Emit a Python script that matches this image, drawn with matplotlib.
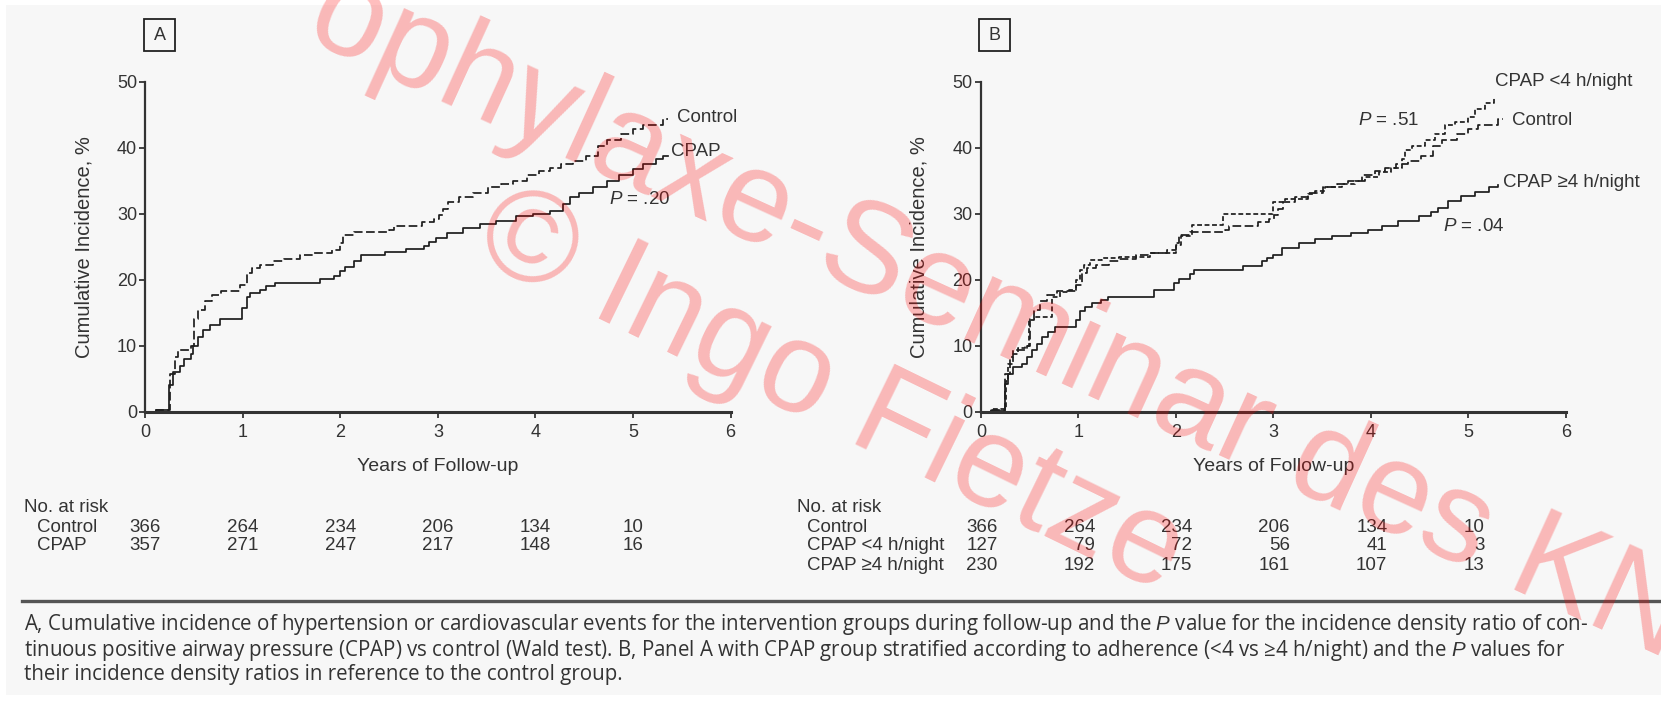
import matplotlib
matplotlib.use("Agg")
import matplotlib.pyplot as plt
from matplotlib.patches import Rectangle
from matplotlib.lines import Line2D
from matplotlib import transforms

plt.rcParams["font.family"] = ["Liberation Sans", "DejaVu Sans"]
plt.rcParams["mathtext.fontset"] = "custom"
plt.rcParams["mathtext.rm"] = "Liberation Sans"
plt.rcParams["mathtext.it"] = "Liberation Sans:italic"

# ---- data (years, cumulative incidence %) ----
control_years = [0, 0.11, 0.23, 0.25, 0.30, 0.33, 0.47, 0.50, 0.54, 0.61, 0.68, 0.78, 0.97,
                 1.04, 1.09, 1.18, 1.31, 1.42, 1.59, 1.72, 1.91, 2.00, 2.03, 2.14, 2.50,
                 2.55, 2.84, 2.96, 3.01, 3.05, 3.10, 3.22, 3.36, 3.51, 3.65, 3.77, 3.91,
                 4.04, 4.15, 4.26, 4.38, 4.52, 4.64, 4.73, 4.88, 5.00, 5.10, 5.31, 5.36]
control_pct = [0, 0.3, 0.3, 5.7, 8.3, 9.3, 10.0, 14.1, 15.4, 16.7, 17.7, 18.3, 19.2,
               21.0, 21.8, 22.3, 22.8, 23.1, 23.7, 24.1, 24.5, 25.6, 26.7, 27.2, 27.6,
               28.2, 28.7, 29.2, 29.8, 30.7, 31.7, 32.5, 33.2, 34.0, 34.5, 35.0, 35.8,
               36.4, 36.9, 37.5, 38.0, 38.8, 40.3, 41.1, 42.1, 42.9, 43.4, 44.4, 44.4]

cpap_years = [0, 0.11, 0.24, 0.28, 0.35, 0.40, 0.47, 0.49, 0.54, 0.59, 0.66, 0.76, 0.99,
              1.04, 1.07, 1.18, 1.24, 1.33, 1.79, 1.93, 2.00, 2.05, 2.14, 2.21, 2.46,
              2.67, 2.86, 2.91, 2.98, 3.09, 3.26, 3.43, 3.60, 3.80, 3.97, 4.15, 4.28,
              4.35, 4.45, 4.59, 4.73, 4.86, 5.00, 5.10, 5.24, 5.31, 5.36]
cpap_pct = [0, 0.2, 4.0, 6.0, 7.0, 8.0, 8.8, 10.0, 11.3, 12.4, 13.1, 14.1, 15.7,
            17.4, 18.0, 18.5, 19.0, 19.5, 20.1, 20.5, 21.3, 22.0, 22.8, 23.7, 24.2,
            24.6, 25.1, 25.7, 26.3, 27.1, 27.9, 28.4, 28.9, 29.6, 29.9, 30.4, 31.4,
            32.5, 33.2, 34.0, 35.0, 35.8, 36.8, 37.5, 38.3, 38.8, 38.8]

low_years = [0, 0.10, 0.26, 0.28, 0.33, 0.38, 0.45, 0.49, 0.54, 0.73, 0.81, 0.90, 0.97,
             1.02, 1.06, 1.12, 1.24, 1.42, 1.73, 2.00, 2.05, 2.17, 2.48, 3.00, 3.12,
             3.36, 3.43, 3.53, 3.70, 3.84, 3.94, 4.08, 4.21, 4.32, 4.35, 4.42, 4.56,
             4.66, 4.76, 4.86, 5.00, 5.07, 5.17, 5.26]
low_pct = [0, 0.4, 4.7, 7.3, 8.8, 9.6, 10.0, 13.9, 14.4, 17.4, 18.2, 18.5, 20.0,
           21.5, 22.3, 23.0, 23.3, 23.5, 24.0, 25.3, 26.6, 28.3, 29.9, 31.7, 32.2,
           33.0, 33.5, 34.0, 34.5, 35.0, 35.5, 36.3, 36.9, 38.3, 39.6, 40.3, 41.1,
           42.1, 43.4, 43.9, 44.7, 45.9, 46.7, 47.7]

high_years = [0, 0.10, 0.25, 0.28, 0.33, 0.42, 0.47, 0.52, 0.57, 0.63, 0.69, 0.76, 0.97,
              1.02, 1.07, 1.14, 1.23, 1.30, 1.78, 1.98, 2.03, 2.14, 2.19, 2.69, 2.88,
              2.93, 3.00, 3.09, 3.26, 3.43, 3.60, 3.80, 3.97, 4.11, 4.28, 4.49, 4.62,
              4.69, 4.79, 4.93, 5.07, 5.21, 5.31]
high_pct = [0, 0.15, 4.2, 5.7, 6.8, 7.3, 8.3, 9.3, 10.3, 11.3, 12.1, 12.9, 13.9,
            15.2, 15.9, 16.5, 17.0, 17.4, 18.4, 19.5, 20.1, 20.8, 21.5, 22.1, 22.8,
            23.3, 23.8, 24.8, 25.6, 26.2, 26.6, 27.1, 27.6, 28.2, 28.9, 29.7, 30.2,
            30.9, 31.9, 32.7, 33.3, 34.0, 34.3]

risk_years = [0, 1, 2, 3, 4, 5]
risk_a_labels = ["Control", "CPAP"]
risk_a = [[366, 264, 234, 206, 134, 10],
          [357, 271, 247, 217, 148, 16]]
risk_b_labels = ["Control", "CPAP <4 h/night", "CPAP \u22654 h/night"]
risk_b = [[366, 264, 234, 206, 134, 10],
          [127, 79, 72, 56, 41, 3],
          [230, 192, 175, 161, 107, 13]]

caption = [
    "A, Cumulative incidence of hypertension or cardiovascular events for the intervention groups during "
    "follow-up and the $P$ value for the incidence density ratio of con-",
    "tinuous positive airway pressure (CPAP) vs control (Wald test). B, Panel A with CPAP group stratified "
    "according to adherence (<4 vs \u22654 h/night) and the $P$ values for",
    "their incidence density ratios in reference to the control group.",
]

W, H = 1661, 704
INK = "#1e1e1e"
TXT = "#333333"
fig = plt.figure(figsize=(W / 100, H / 100), dpi=100, facecolor="white")


def fx(px):
    return px / W


def fy(py):
    return 1 - py / H


# light grey page background, kept behind the axes
fig.patches.append(Rectangle((fx(6), fy(695)), fx(W - 6), (695 - 5) / H,
                             transform=fig.transFigure, facecolor="#f7f7f7",
                             edgecolor="none", zorder=-5))


def make_axes(left_px, right_px):
    ax = fig.add_axes([fx(left_px), fy(411.7), fx(right_px - left_px), (411.7 - 81.7) / H])
    ax.set_facecolor("none")
    ax.set_xlim(0, 6)
    ax.set_ylim(0, 50)
    ax.set_xticks(range(7))
    ax.set_yticks(range(0, 51, 10))
    for side in ("top", "right"):
        ax.spines[side].set_visible(False)
    ax.spines["left"].set_linewidth(1.6)
    ax.spines["bottom"].set_linewidth(2.2)
    for side in ("left", "bottom"):
        ax.spines[side].set_color("#333333")
    ax.tick_params(axis="x", length=4, width=1.3, pad=5, labelsize=13, colors=TXT)
    ax.tick_params(axis="y", length=4, width=1.3, pad=2, labelsize=13, colors=TXT)
    ax.set_xlabel("Years of Follow-up", fontsize=14, color=TXT, labelpad=12)
    ax.set_ylabel("Cumulative Incidence, %", fontsize=14.5, color=TXT, labelpad=17)
    return ax


def step(ax, xs, ys, dashes=None):
    line, = ax.step(xs, ys, where="post", color=INK, lw=1.25, clip_on=False)
    if dashes:
        line.set_dashes(dashes)
    return line


def panel_box(x0, letter):
    fig.patches.append(Rectangle((fx(x0), fy(51)), fx(31), 32 / H, transform=fig.transFigure,
                                 facecolor="none", edgecolor="#222222", lw=1.3))
    fig.text(fx(x0 + 15.5), fy(35), letter, ha="center", va="center", fontsize=13, color=TXT)


# ---- panel A ----
ax_a = make_axes(145.4, 730.5)
step(ax_a, control_years, control_pct, dashes=(5, 2))
step(ax_a, cpap_years, cpap_pct)
ax_a.text(5.45, 44.5, "Control", fontsize=13.5, va="center", color=TXT, clip_on=False)
ax_a.text(5.39, 39.5, "CPAP", fontsize=13.5, va="center", color=TXT, clip_on=False)
ax_a.text(4.75, 32.1, "$P$ = .20", fontsize=13.5, va="center", color=TXT)
panel_box(144, "A")

# ---- panel B ----
ax_b = make_axes(981, 1565.7)
step(ax_b, control_years, control_pct, dashes=(5, 2))
step(ax_b, low_years, low_pct, dashes=(2.8, 1.5))
step(ax_b, high_years, high_pct)
ax_b.text(5.27, 50.0, "CPAP <4 h/night", fontsize=13.5, va="center", color=TXT, clip_on=False)
ax_b.text(5.45, 44.1, "Control", fontsize=13.5, va="center", color=TXT, clip_on=False)
ax_b.text(5.36, 34.7, "CPAP \u22654 h/night", fontsize=13.5, va="center", color=TXT, clip_on=False)
ax_b.text(3.87, 44.1, "$P$ = .51", fontsize=13.5, va="center", color=TXT)
ax_b.text(4.74, 28.05, "$P$ = .04", fontsize=13.5, va="center", color=TXT)
panel_box(979, "B")

# ---- numbers at risk ----
row_y = [527, 546, 565]
tr_a = transforms.blended_transform_factory(ax_a.transData, fig.transFigure)
fig.text(fx(24), fy(508), "No. at risk", fontsize=13.5, va="center", color=TXT)
for label, counts, yy in zip(risk_a_labels, risk_a, row_y):
    fig.text(fx(37), fy(yy), label, fontsize=13.5, va="center", color=TXT)
    for yr, n in zip(risk_years, counts):
        fig.text(yr, fy(yy), str(n), transform=tr_a, fontsize=13.5, ha="center",
                 va="center", color=TXT)

tr_b = transforms.blended_transform_factory(ax_b.transData, fig.transFigure)
fig.text(fx(797), fy(508), "No. at risk", fontsize=13.5, va="center", color=TXT)
for label, counts, yy in zip(risk_b_labels, risk_b, row_y):
    fig.text(fx(807), fy(yy), label, fontsize=13.5, va="center", color=TXT)
    for yr, n in zip(risk_years, counts):
        fig.text(yr + 0.17, fy(yy), str(n), transform=tr_b, fontsize=13.5, ha="right",
                 va="center", color=TXT)

# ---- rule and caption ----
fig.add_artist(Line2D([fx(22), 1.0], [fy(601), fy(601)], transform=fig.transFigure,
                      color="#555555", lw=2.4))
fig.text(fx(24), fy(648.5), "\n".join(caption), fontsize=14.8, va="center", ha="left",
         linespacing=1.05, family=["Open Sans", "DejaVu Sans"], color=TXT)

# ---- watermark ----
wm = dict(fontsize=93, color="red", alpha=0.26, rotation_mode="anchor",
          ha="left", va="baseline", family="Liberation Sans", zorder=10)
fig.text(fx(302), fy(37), "ophylaxe-Seminar des KNS", rotation=-24.5, **wm)
fig.text(fx(470), fy(256), "\u00a9 Ingo Fietze", rotation=-26, **wm)

fig.savefig("out.png", dpi=100, facecolor="white")
